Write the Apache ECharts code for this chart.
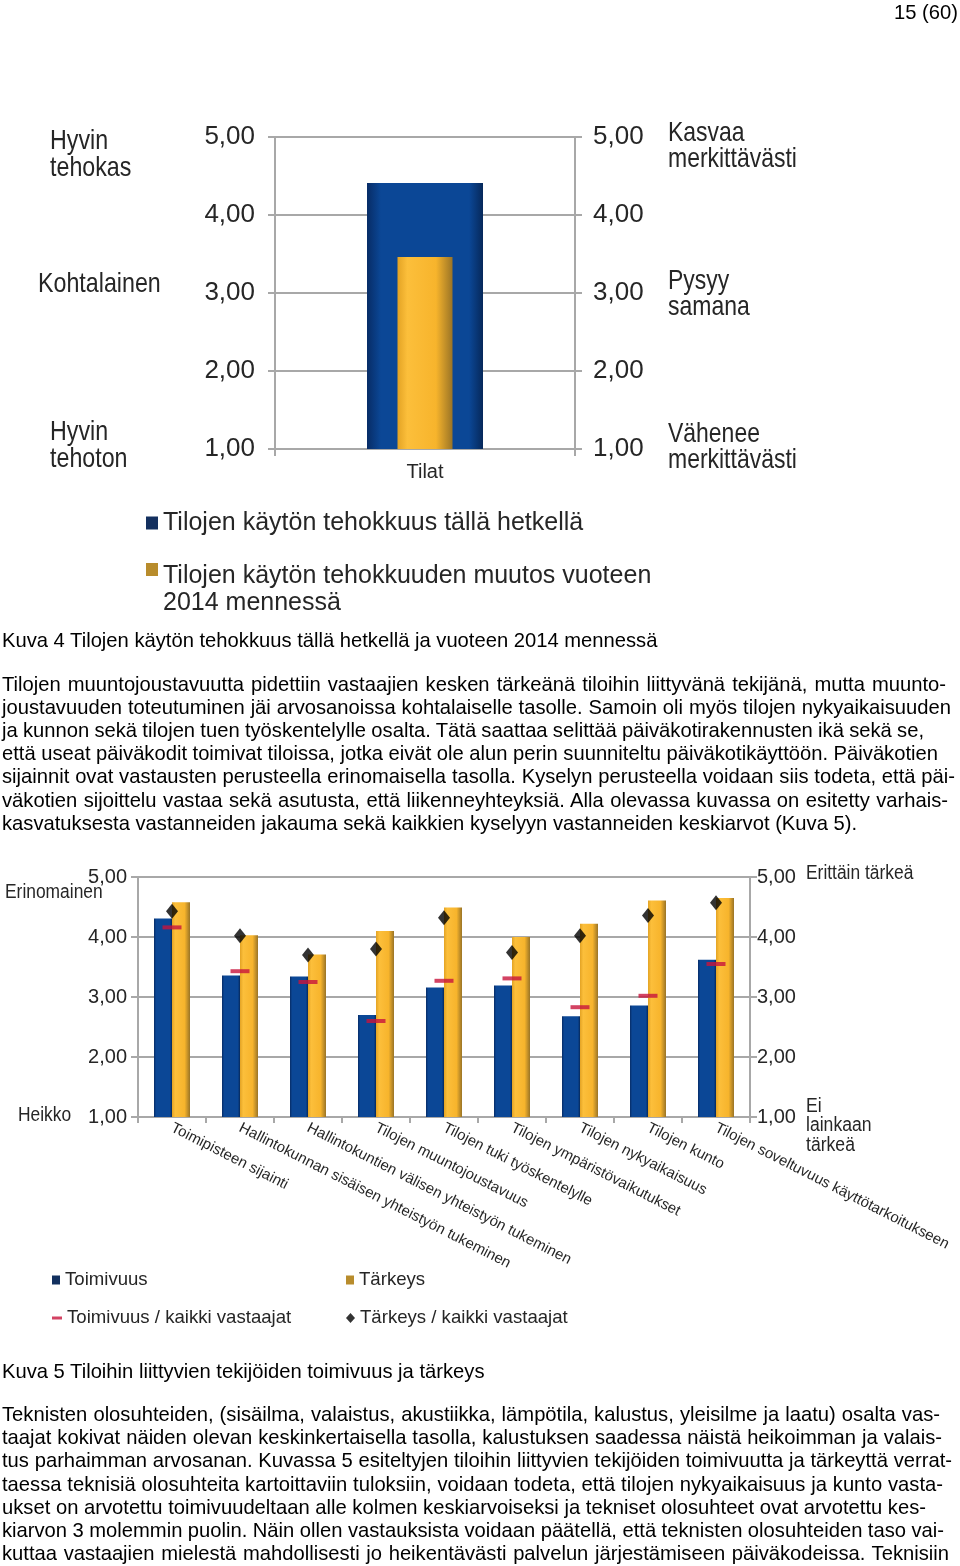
<!DOCTYPE html>
<html><head><meta charset="utf-8">
<script src="https://cdn.jsdelivr.net/npm/echarts@6/dist/echarts.min.js"></script>
<style>
html,body{margin:0;padding:0;background:#fff;}
#page{position:relative;width:960px;height:1566px;overflow:hidden;background:#fff;}
#chart{position:absolute;left:0;top:0;width:960px;height:1566px;}
.t{position:absolute;left:2px;font-family:'Liberation Sans',Arial,sans-serif;font-size:20.2px;line-height:23px;color:#000;white-space:nowrap;}
</style></head><body>
<div id="page"><div id="chart"></div><div id="txt"></div></div>
<script>
// ---------- DATA ----------
const topCategories = ['Tilat'];
const topCurrent = [4.41];        // Tilojen käytön tehokkuus tällä hetkellä
const topChange = [3.46];         // Tilojen käytön tehokkuuden muutos vuoteen 2014 mennessä
const topSeriesNames = ['Tilojen käytön tehokkuus tällä hetkellä', 'Tilojen käytön tehokkuuden muutos vuoteen\n2014 mennessä'];

const bottomCategories = ['Toimipisteen sijainti', 'Hallintokunnan sisäisen yhteistyön tukeminen',
  'Hallintokuntien välisen yhteistyön tukeminen', 'Tilojen muuntojoustavuus', 'Tilojen tuki työskentelylle',
  'Tilojen ympäristövaikutukset', 'Tilojen nykyaikaisuus', 'Tilojen kunto', 'Tilojen soveltuvuus käyttötarkoitukseen'];
const toimivuus = [4.31, 3.36, 3.34, 2.70, 3.16, 3.19, 2.68, 2.86, 3.62];
const tarkeys = [4.58, 4.03, 3.71, 4.10, 4.49, 4.00, 4.22, 4.61, 4.65];
const toimivuusKaikki = [4.16, 3.43, 3.25, 2.60, 3.27, 3.31, 2.83, 3.02, 3.55];
const tarkeysKaikki = [4.43, 4.02, 3.70, 3.80, 4.32, 3.74, 4.02, 4.36, 4.57];
const bottomSeriesNames = ['Toimivuus', 'Tärkeys', 'Toimivuus / kaikki vastaajat', 'Tärkeys / kaikki vastaajat'];

const axisMin = 1, axisMax = 5, axisStep = 1;
const topLeftLabels = [['Hyvin', 'tehokas'], ['Kohtalainen'], ['Hyvin', 'tehoton']];
const topRightLabels = [['Kasvaa', 'merkittävästi'], ['Pysyy', 'samana'], ['Vähenee', 'merkittävästi']];
const bottomLeftLabels = ['Erinomainen', 'Heikko'];
const bottomRightLabels = [['Erittäin tärkeä'], ['Ei', 'lainkaan', 'tärkeä']];

// ---------- PAGE TEXT ----------
const pageNumber = '15 (60)';
const caption4 = 'Kuva 4 Tilojen käytön tehokkuus tällä hetkellä ja vuoteen 2014 mennessä';
const para1 = [
  'Tilojen muuntojoustavuutta pidettiin vastaajien kesken tärkeänä tiloihin liittyvänä tekijänä, mutta muunto-',
  'joustavuuden toteutuminen jäi arvosanoissa kohtalaiselle tasolle. Samoin oli myös tilojen nykyaikaisuuden',
  'ja kunnon sekä tilojen tuen työskentelylle osalta. Tätä saattaa selittää päiväkotirakennusten ikä sekä se,',
  'että useat päiväkodit toimivat tiloissa, jotka eivät ole alun perin suunniteltu päiväkotikäyttöön. Päiväkotien',
  'sijainnit ovat vastausten perusteella erinomaisella tasolla. Kyselyn perusteella voidaan siis todeta, että päi-',
  'väkotien sijoittelu vastaa sekä asutusta, että liikenneyhteyksiä. Alla olevassa kuvassa on esitetty varhais-',
  'kasvatuksesta vastanneiden jakauma sekä kaikkien kyselyyn vastanneiden keskiarvot (Kuva 5).'
];
const caption5 = 'Kuva 5 Tiloihin liittyvien tekijöiden toimivuus ja tärkeys';
const para2 = [
  'Teknisten olosuhteiden, (sisäilma, valaistus, akustiikka, lämpötila, kalustus, yleisilme ja laatu) osalta vas-',
  'taajat kokivat näiden olevan keskinkertaisella tasolla, kalustuksen saadessa näistä heikoimman ja valais-',
  'tus parhaimman arvosanan. Kuvassa 5 esiteltyjen tiloihin liittyvien tekijöiden toimivuutta ja tärkeyttä verrat-',
  'taessa teknisiä olosuhteita kartoittaviin tuloksiin, voidaan todeta, että tilojen nykyaikaisuus ja kunto vasta-',
  'ukset on arvotettu toimivuudeltaan alle kolmen keskiarvoiseksi ja tekniset olosuhteet ovat arvotettu kes-',
  'kiarvon 3 molemmin puolin. Näin ollen vastauksista voidaan päätellä, että teknisten olosuhteiden taso vai-',
  'kuttaa vastaajien mielestä mahdollisesti jo heikentävästi palvelun järjestämiseen päiväkodeissa. Teknisiin'
];
// layout of text lines (centre y, right end x; 0 = not justified)
const para1Y = [684, 707, 730, 753, 776, 800, 823];
const para1End = [946, 951, 924, 938, 955, 948, 0];
const para2Y = [1414, 1437, 1460, 1484, 1507, 1530, 1553];
const para2End = [940, 942, 952, 943, 926, 944, 949];

const txt = document.getElementById('txt');
function addLine(text, y, endX, extra) {
  const d = document.createElement('div');
  d.className = 't';
  d.textContent = text;
  d.style.top = (y - 11.5) + 'px';
  if (extra) Object.assign(d.style, extra);
  txt.appendChild(d);
  if (endX) {
    const w = d.getBoundingClientRect().width;
    const n = (text.match(/ /g) || []).length;
    if (n) d.style.wordSpacing = ((endX - 2 - w) / n) + 'px';
  }
}
addLine(pageNumber, 12, 0, {left: 'auto', right: '2px'});
addLine(caption4, 640, 0);
para1.forEach((l, i) => addLine(l, para1Y[i], para1End[i]));
addLine(caption5, 1371, 0);
para2.forEach((l, i) => addLine(l, para2Y[i], para2End[i]));

// ---------- CHART ----------
const FONT = "'Liberation Sans',Arial,sans-serif";
const TXT = '#262626';
const GRID = '#a8a8a8';
const fmt = v => v.toFixed(2).replace('.', ',');

const blueGrad = () => new echarts.graphic.LinearGradient(0, 0, 1, 0, [
  {offset: 0, color: '#072c66'}, {offset: 0.12, color: '#0b4796'},
  {offset: 0.88, color: '#0b4796'}, {offset: 1, color: '#06285a'}]);
const yellowGrad = () => new echarts.graphic.LinearGradient(0, 0, 1, 0, [
  {offset: 0, color: '#e3a324'}, {offset: 0.18, color: '#fcbf3b'},
  {offset: 0.7, color: '#f7b42c'}, {offset: 1, color: '#9a7426'}]);

function yAx(grid, pos, size, margin, split) {
  return {
    type: 'value', gridIndex: grid, position: pos, min: axisMin, max: axisMax, interval: axisStep,
    axisLine: {show: true, lineStyle: {color: GRID, width: 2}},
    axisTick: {show: true, length: 7, lineStyle: {color: GRID, width: 2}},
    splitLine: {show: split, lineStyle: {color: GRID, width: 2}},
    axisLabel: {formatter: fmt, fontFamily: FONT, fontSize: size, color: TXT, margin: margin}
  };
}

// narrow-looking side labels: horizontally condensed text
function multiText(lines, x, firstY, lh, size, sx) {
  return {
    type: 'text', x: x, y: firstY - lh / 2, scaleX: sx, scaleY: 1,
    style: {text: lines.join('\n'), fontFamily: FONT, fontSize: size, lineHeight: lh, fill: TXT,
      align: 'left', verticalAlign: 'top'}
  };
}

const graphics = [
  multiText(topLeftLabels[0], 50, 141, 27, 28, 0.83),
  multiText(topLeftLabels[1], 38, 284, 27, 28, 0.83),
  multiText(topLeftLabels[2], 50, 432, 27, 28, 0.83),
  multiText(topRightLabels[0], 668, 133, 26, 28, 0.82),
  multiText(topRightLabels[1], 668, 281, 26, 28, 0.82),
  multiText(topRightLabels[2], 668, 434, 26, 28, 0.82),
  multiText([bottomLeftLabels[0]], 5, 892, 22, 20, 0.87),
  multiText([bottomLeftLabels[1]], 18, 1115, 22, 20, 0.87),
  multiText(bottomRightLabels[0], 806, 873, 22, 20, 0.87),
  multiText(bottomRightLabels[1], 806, 1106, 19.5, 20, 0.88)
];

function legendOne(name, left, top, icon, w, h, color, size, lh) {
  return {
    left: left, top: top, orient: 'vertical', icon: icon,
    itemWidth: w, itemHeight: h, itemGap: 0, selectedMode: false, padding: 0,
    data: [{name: name, itemStyle: {color: color}}],
    textStyle: {fontFamily: FONT, fontSize: size, color: TXT, lineHeight: lh}
  };
}
// icon with the square at the top of a tall (invisible-extended) box, so it sits by the first text line
const topAlignedSquare = 'path://M0,0L12,0L12,13L0,13Z M11.99,53.99L12,53.99L12,54L11.99,54Z';

const option = {
  animation: false,
  backgroundColor: 'transparent',
  grid: [
    {left: 275, top: 137, width: 300, height: 312, containLabel: false},
    {left: 138, top: 877, width: 612, height: 240, containLabel: false}
  ],
  xAxis: [
    {type: 'category', gridIndex: 0, data: topCategories,
      axisLine: {lineStyle: {color: GRID, width: 2}},
      axisTick: {show: true, length: 7, lineStyle: {color: GRID, width: 2}},
      axisLabel: {fontFamily: FONT, fontSize: 20, color: TXT, margin: 13}},
    {type: 'category', gridIndex: 0, data: topCategories, show: false},
    {type: 'category', gridIndex: 1, data: bottomCategories,
      axisLine: {lineStyle: {color: GRID, width: 2}},
      axisTick: {show: true, length: 6, lineStyle: {color: GRID, width: 2}},
      axisLabel: {fontFamily: FONT, fontSize: 15, color: TXT, margin: 10, rotate: -27, interval: 0}}
  ],
  yAxis: [
    yAx(0, 'left', 26, 20, true),
    yAx(0, 'right', 26, 18, false),
    yAx(1, 'left', 20, 11, true),
    yAx(1, 'right', 20, 7, false)
  ],
  legend: [
    legendOne(topSeriesNames[0], 146, 508, 'rect', 12, 13, '#13305f', 25, 30),
    legendOne(topSeriesNames[1], 146, 563, topAlignedSquare, 12, 54, '#b88c2c', 25, 27),
    legendOne(bottomSeriesNames[0], 52, 1270, 'rect', 8, 9, '#13305f', 18.6, 20),
    legendOne(bottomSeriesNames[1], 346, 1270, 'rect', 8, 9, '#b88c2c', 18.6, 20),
    legendOne(bottomSeriesNames[2], 52, 1308, 'rect', 10, 3, '#c8143c', 18.6, 20),
    legendOne(bottomSeriesNames[3], 346, 1308, 'diamond', 9, 10, '#000', 18.6, 20)
  ],
  series: [
    {name: topSeriesNames[0], type: 'bar', xAxisIndex: 0, yAxisIndex: 0, data: topCurrent,
      barWidth: 116, clip: true, itemStyle: {color: blueGrad()}},
    {name: topSeriesNames[1], type: 'bar', xAxisIndex: 1, yAxisIndex: 1, data: topChange,
      barWidth: 55, clip: true, itemStyle: {color: yellowGrad()}},
    {name: bottomSeriesNames[0], type: 'bar', xAxisIndex: 2, yAxisIndex: 2, data: toimivuus,
      barWidth: 18, barGap: '0%', clip: true, itemStyle: {color: blueGrad()}},
    {name: bottomSeriesNames[1], type: 'bar', xAxisIndex: 2, yAxisIndex: 3, data: tarkeys,
      barWidth: 18, barGap: '0%', clip: true, itemStyle: {color: yellowGrad()}},
    {name: bottomSeriesNames[2], type: 'scatter', xAxisIndex: 2, yAxisIndex: 2, data: toimivuusKaikki,
      symbol: 'rect', symbolSize: [19, 4], z: 5, itemStyle: {color: '#c8143c'}},
    {name: bottomSeriesNames[3], type: 'scatter', xAxisIndex: 2, yAxisIndex: 3, data: tarkeysKaikki,
      symbol: 'diamond', symbolSize: [12, 15], z: 6, itemStyle: {color: '#000'}}
  ],
  graphic: graphics
};

const chart = echarts.init(document.getElementById('chart'), null, {renderer: 'canvas'});
chart.setOption(option);
</script>
</body></html>
